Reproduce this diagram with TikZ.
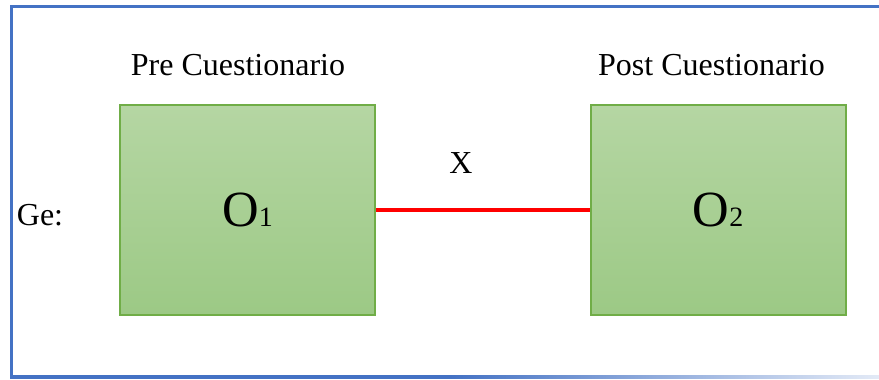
\documentclass[tikz,border=0pt]{standalone}
\usepackage{fontspec}
\setmainfont{Liberation Serif}
\usepackage{tikz}
\usetikzlibrary{positioning}

\definecolor{marco}{HTML}{4472C4}
\definecolor{verdeborde}{HTML}{70AD47}
\definecolor{verdearriba}{HTML}{B5D6A3}
\definecolor{verdeabajo}{HTML}{9CC985}

\tikzset{
  caja/.style={draw=verdeborde, line width=1.5pt, top color=verdearriba, bottom color=verdeabajo,
    minimum width=191.25pt, minimum height=157.5pt, inner sep=0pt,
    font=\fontsize{38}{44}\selectfont},
  etiqueta/.style={font=\fontsize{24}{28}\selectfont, inner sep=0pt},
}

\begin{document}
\begin{tikzpicture}[x=0.75pt, y=-0.75pt]
  \useasboundingbox (0,0) rectangle (879,379);

  % Marco azul
  \fill[marco] (9.5,4.5) rectangle (879,8);
  \fill[marco] (9.5,4.5) rectangle (13,378.5);
  \fill[marco] (9.5,375) rectangle (450,378.5);
  \shade[left color=marco, right color=marco!15] (450,375) rectangle (879,378.5);

  % Cajas
  \node[caja] (o1) at (247.5,210) {O{\fontsize{21}{24}\selectfont 1}};
  \node[caja] (o2) at (718,210) {O{\fontsize{21}{24}\selectfont 2}};

  % Titulos
  \node[etiqueta] (pre) at (238,65) {Pre Cuestionario};
  \node[etiqueta] (post) at (711.5,65) {Post Cuestionario};

  % Tratamiento
  \draw[red, line width=3pt] (o1.east) -- (o2.west);
  \node[etiqueta] (trat) at (461,163) {X};

  % Grupo
  \node[etiqueta] (grupo) at (40,215) {Ge:};
\end{tikzpicture}
\end{document}
